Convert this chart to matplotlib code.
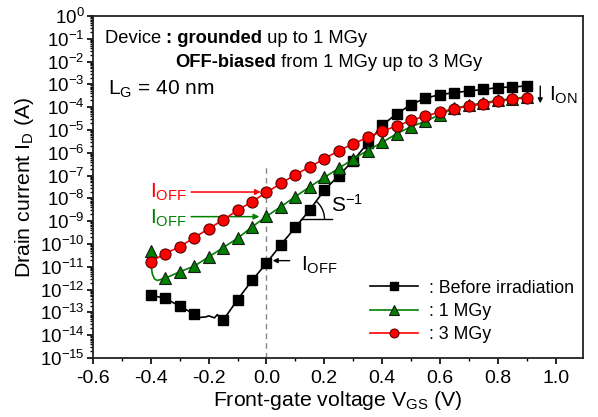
import numpy as np
import matplotlib
matplotlib.use("Agg")
import matplotlib.pyplot as plt
from matplotlib.ticker import LogLocator, LogFormatterSciNotation, MultipleLocator, NullFormatter

plt.rcParams['font.family'] = ['Liberation Sans', 'DejaVu Sans']
plt.rcParams['mathtext.fontset'] = 'custom'
plt.rcParams['mathtext.rm'] = 'Liberation Sans'
plt.rcParams['mathtext.it'] = 'Liberation Sans:italic'
plt.rcParams['mathtext.bf'] = 'Liberation Sans:bold'

# gate voltage of the marked points (V)
vgs = [-0.40, -0.35, -0.30, -0.25, -0.20, -0.15, -0.10, -0.05, 0.00, 0.05,
       0.10, 0.15, 0.20, 0.25, 0.30, 0.35, 0.40, 0.45, 0.50, 0.55,
       0.60, 0.65, 0.70, 0.75, 0.80, 0.85, 0.90]

# log10 of drain current (A)
log_before = [-12.25, -12.38, -12.73, -13.07, np.nan, -13.35, -12.44, -11.60, -10.84, -10.03,
              -9.27, -8.50, -7.64, -7.00, -6.34, -5.58, -4.80, -4.29, -3.89, -3.60,
              -3.45, -3.36, -3.29, -3.22, -3.14, -3.11, -3.07]
log_1mgy = [-10.30, -11.50, -11.22, -10.97, -10.57, -10.16, -9.75, -9.25, -8.79, -8.36,
            -7.92, -7.49, -7.08, -6.68, -6.27, -5.90, -5.54, -5.17, -4.85, -4.62,
            -4.32, -4.05, -3.92, -3.81, -3.70, -3.62, -3.55]
log_3mgy = [-10.77, -10.42, -10.12, -9.72, -9.33, -8.94, -8.52, -8.14, -7.74, -7.34,
            -6.96, -6.61, -6.27, -5.90, -5.61, -5.32, -5.05, -4.83, -4.58, -4.39,
            -4.21, -4.07, -3.95, -3.85, -3.73, -3.66, -3.58]

# unmarked parts of the measured curves (line only)
wiggle_v = [-0.23, -0.21, -0.20, -0.18, -0.17]
wiggle_log = [-13.22, -13.20, -13.15, -13.24, -13.10]
green_tail_v = [-0.398, -0.395, -0.388, -0.378]
green_tail_log = [-11.00, -11.30, -11.52, -11.60]

labels = [': Before irradiation', ': 1 MGy', ': 3 MGy']


def build_line(v, logs, extra_v, extra_log):
    pts = [(a, b, True) for a, b in zip(v, logs) if not np.isnan(b)]
    pts += [(a, b, False) for a, b in zip(extra_v, extra_log)]
    pts.sort(key=lambda p: p[0])
    xs = [p[0] for p in pts]
    ys = [10.0 ** p[1] for p in pts]
    marks = [i for i, p in enumerate(pts) if p[2]]
    return xs, ys, marks


fig = plt.figure(figsize=(5.98, 4.17), dpi=100)
ax = fig.add_axes([0.1555, 0.1415, 0.8195, 0.8201])
ax.set_yscale('log')
ax.set_xlim(-0.6, 1.095)
ax.set_ylim(1e-15, 1e0)

bx, by, bm = build_line(vgs, log_before, wiggle_v, wiggle_log)
gx, gy, gm = build_line(vgs, log_1mgy, green_tail_v, green_tail_log)
rx, ry, rm = build_line(vgs, log_3mgy, [], [])

ax.plot(bx, by, color='black', lw=1.2, marker='s', markevery=bm, ms=6.5,
        mfc='black', mec='black', label=labels[0], zorder=3)
ax.plot(gx, gy, color='#008000', lw=1.2, marker='^', markevery=gm, ms=8.5,
        mfc='#008000', mec='#1a1a1a', mew=0.8, label=labels[1], zorder=4)
ax.plot(rx, ry, color='#ff0000', lw=1.2, marker='o', markevery=rm, ms=8,
        mfc='#ff0000', mec='#5a0000', mew=0.8, label=labels[2], zorder=5)

# dashed line at VGS = 0
ax.plot([0, 0], [1e-15, 10 ** -6.58], ls=(0, (4, 3)), color='#888888', lw=1.0, zorder=2)

# ticks
ax.yaxis.set_major_locator(LogLocator(base=10, numticks=20))
ax.yaxis.set_major_formatter(LogFormatterSciNotation())
ax.yaxis.set_minor_locator(LogLocator(base=10, subs=np.arange(2, 10), numticks=20))
ax.yaxis.set_minor_formatter(NullFormatter())
ax.xaxis.set_major_locator(MultipleLocator(0.2))
ax.xaxis.set_minor_locator(MultipleLocator(0.1))
ax.tick_params(which='major', direction='out', length=4, width=1.2, labelsize=14, pad=2)
ax.tick_params(axis='y', which='major', labelsize=13.5)
ax.tick_params(axis='x', which='major', pad=5)
ax.tick_params(which='minor', direction='out', length=2.5, width=1.0)
ax.xaxis.set_major_formatter(plt.FuncFormatter(lambda v, p: '%.1f' % v))
for s in ax.spines.values():
    s.set_linewidth(1.3)
    s.set_color('#222222')

ax.set_xlabel(r'Front-gate voltage V$_{\rm GS}$ (V)', fontsize=15.3, labelpad=1)
ax.set_ylabel(r'Drain current I$_{\rm D}$ (A)', fontsize=15.3, labelpad=3)

# header text
fs_head = 13.2
t1 = ax.text(0.024, 0.909, 'Device ', transform=ax.transAxes, fontsize=fs_head, va='bottom')
t2 = ax.annotate(': grounded', xy=(1, 0), xycoords=t1, va='bottom', fontsize=fs_head, fontweight='bold')
ax.annotate(' up to 1 MGy', xy=(1, 0), xycoords=t2, va='bottom', fontsize=fs_head)
t4 = ax.text(0.168, 0.838, 'OFF-biased', transform=ax.transAxes, fontsize=fs_head, va='bottom', fontweight='bold')
ax.annotate(' from 1 MGy up to 3 MGy', xy=(1, 0), xycoords=t4, va='bottom', fontsize=fs_head)
ax.text(0.03, 0.785, r'L$_{\rm G}$ = 40 nm', transform=ax.transAxes, fontsize=15, va='center')

# IOFF annotations
ax.annotate('', xy=(-0.01, 10 ** -7.72), xytext=(-0.27, 10 ** -7.72),
            arrowprops=dict(arrowstyle='-|>', color='#ff0000', lw=1.1, mutation_scale=8))
ax.text(-0.403, 10 ** -7.72, r'I$_{\rm OFF}$', color='#ff0000', fontsize=15, va='center')
ax.annotate('', xy=(-0.015, 10 ** -8.8), xytext=(-0.27, 10 ** -8.8),
            arrowprops=dict(arrowstyle='-|>', color='#008000', lw=1.1, mutation_scale=8))
ax.text(-0.403, 10 ** -8.88, r'I$_{\rm OFF}$', color='#008000', fontsize=15, va='center')
ax.annotate('', xy=(0.012, 10 ** -10.73), xytext=(0.09, 10 ** -10.73),
            arrowprops=dict(arrowstyle='-|>', color='black', lw=1.0, mutation_scale=7))
ax.text(0.118, 10 ** -10.95, r'I$_{\rm OFF}$', color='black', fontsize=15, va='center')

# ION arrow
ax.annotate('', xy=(0.947, 10 ** -3.95), xytext=(0.947, 10 ** -2.95),
            arrowprops=dict(arrowstyle='-|>', color='black', lw=1.0, mutation_scale=7))
ax.text(0.978, 10 ** -3.5, r'I$_{\rm ON}$', color='black', fontsize=15, va='center')

# S^-1 slope mark
vx, vy = 0.121, 10 ** -8.9
ax.plot([vx, 0.227], [vy, vy], color='black', lw=1.0)
cx, cy = ax.transData.transform((vx, vy))
ang = np.radians(np.linspace(0, 50, 30))
arc = ax.transData.inverted().transform(np.column_stack([cx + 23 * np.cos(ang), cy + 23 * np.sin(ang)]))
ax.plot(arc[:, 0], arc[:, 1], color='black', lw=1.0)
ax.text(0.222, 10 ** -8.3, r'S$^{-1}$', fontsize=15, va='center')

leg = ax.legend(loc='lower right', bbox_to_anchor=(1.006, 0.006), frameon=False, fontsize=12.8,
                handlelength=2.7, handletextpad=0.6, labelspacing=0.36, borderaxespad=0.3,
                markerscale=0.8)

fig.savefig('out.png', dpi=100)
